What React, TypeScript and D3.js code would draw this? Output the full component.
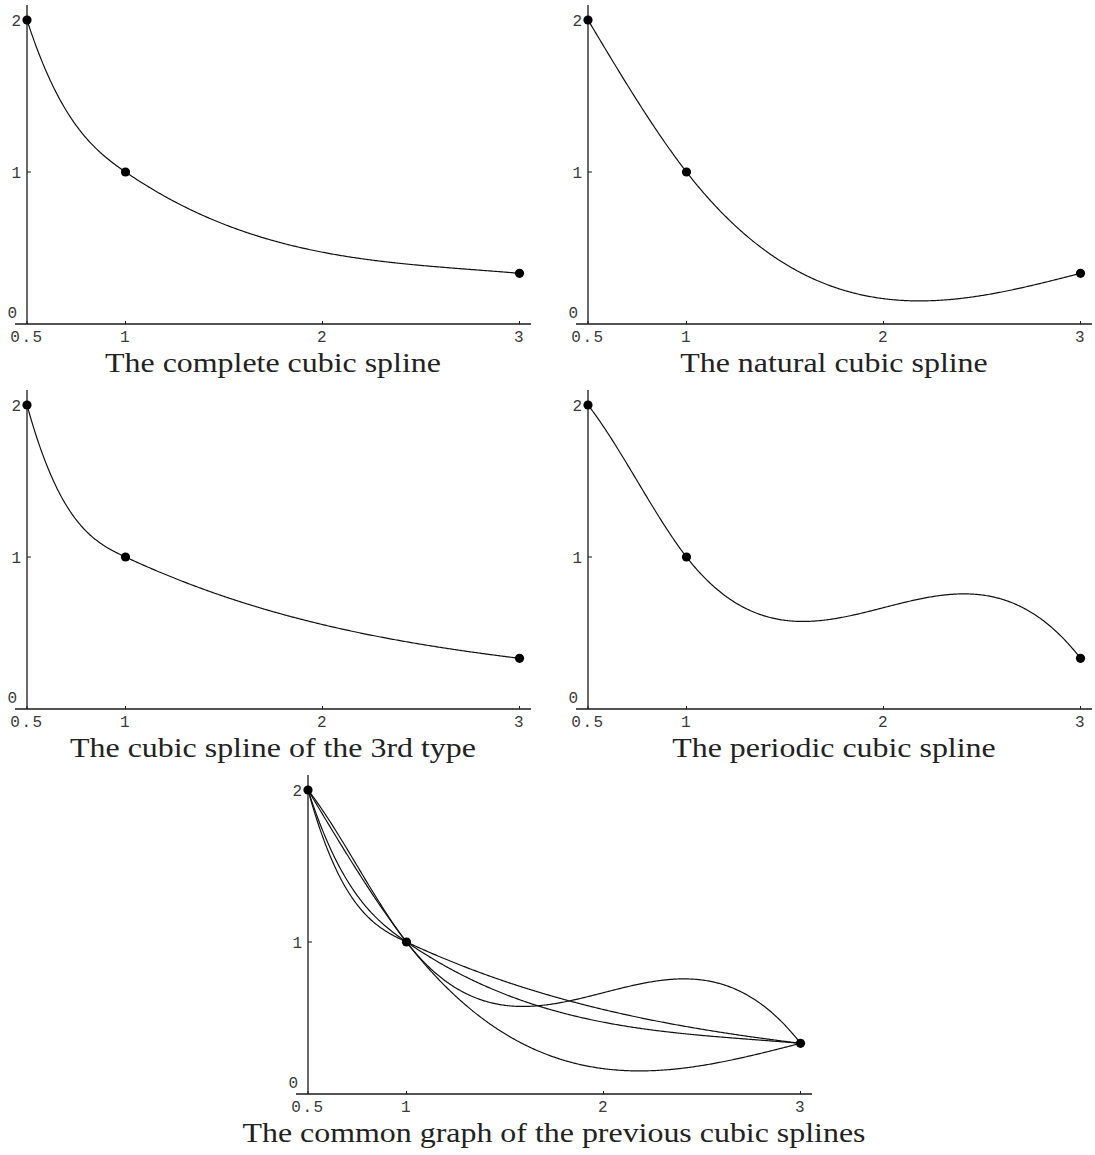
import React from "react";
import * as d3 from "d3";

// Interpolation knots (samples of f(x) = 1/x)
const knotX = [0.5, 1, 3];
const knotY = [2, 1, 1 / 3];

// Boundary data for the spline variants
const completeEndSlopes = [-4, -1 / 9]; // s'(a), s'(b)
const thirdTypeEndCurvatures = [16, 2 / 27]; // s''(a), s''(b)

const xTickValues = [0.5, 1, 2, 3];
const xTickLabels = ["0.5", "1", "2", "3"];
const yTickValues = [0, 1, 2];
const yTickLabels = ["0", "1", "2"];

type Kind = "complete" | "natural" | "third" | "periodic";

const panelKinds: Kind[] = ["complete", "natural", "third", "periodic"];
const panelTitles = [
  "The complete cubic spline",
  "The natural cubic spline",
  "The cubic spline of the 3rd type",
  "The periodic cubic spline",
  "The common graph of the previous cubic splines",
];

// Solve for the knot second derivatives (moments) of the cubic spline
function splineMoments(xs: number[], ys: number[], kind: Kind): number[] {
  const n = xs.length - 1;
  const h: number[] = [];
  const d: number[] = [];
  for (let i = 0; i < n; i++) {
    h[i] = xs[i + 1] - xs[i];
    d[i] = (ys[i + 1] - ys[i]) / h[i];
  }
  const A: number[][] = d3.range(n + 1).map(() => d3.range(n + 1).map(() => 0));
  const b: number[] = d3.range(n + 1).map(() => 0);
  for (let i = 1; i < n; i++) {
    A[i][i - 1] += h[i - 1] / 6;
    A[i][i] += (h[i - 1] + h[i]) / 3;
    A[i][i + 1] += h[i] / 6;
    b[i] = d[i] - d[i - 1];
  }
  if (kind === "complete") {
    A[0][0] += h[0] / 3;
    A[0][1] += h[0] / 6;
    b[0] = d[0] - completeEndSlopes[0];
    A[n][n - 1] += h[n - 1] / 6;
    A[n][n] += h[n - 1] / 3;
    b[n] = completeEndSlopes[1] - d[n - 1];
  } else if (kind === "natural") {
    A[0][0] = 1;
    A[n][n] = 1;
  } else if (kind === "third") {
    A[0][0] = 1;
    b[0] = thirdTypeEndCurvatures[0];
    A[n][n] = 1;
    b[n] = thirdTypeEndCurvatures[1];
  } else {
    // periodic: equal second and first derivatives at both ends
    A[0][0] += 1;
    A[0][n] -= 1;
    A[n][0] += h[0] / 3;
    A[n][1] += h[0] / 6;
    A[n][n - 1] += h[n - 1] / 6;
    A[n][n] += h[n - 1] / 3;
    b[n] = d[0] - d[n - 1];
  }
  // Gaussian elimination with partial pivoting
  const m = n + 1;
  for (let c = 0; c < m; c++) {
    let p = c;
    for (let r = c + 1; r < m; r++) if (Math.abs(A[r][c]) > Math.abs(A[p][c])) p = r;
    [A[c], A[p]] = [A[p], A[c]];
    [b[c], b[p]] = [b[p], b[c]];
    for (let r = c + 1; r < m; r++) {
      const f = A[r][c] / A[c][c];
      for (let k = c; k < m; k++) A[r][k] -= f * A[c][k];
      b[r] -= f * b[c];
    }
  }
  const M: number[] = new Array(m).fill(0);
  for (let r = m - 1; r >= 0; r--) {
    let s = b[r];
    for (let k = r + 1; k < m; k++) s -= A[r][k] * M[k];
    M[r] = s / A[r][r];
  }
  return M;
}

function splineEval(xs: number[], ys: number[], M: number[], x: number): number {
  const n = xs.length - 1;
  let i = 0;
  while (i < n - 1 && x > xs[i + 1]) i++;
  const h = xs[i + 1] - xs[i];
  const a = xs[i + 1] - x;
  const c = x - xs[i];
  return (
    (M[i] * a * a * a) / (6 * h) +
    (M[i + 1] * c * c * c) / (6 * h) +
    ((ys[i] - (M[i] * h * h) / 6) * a) / h +
    ((ys[i + 1] - (M[i + 1] * h * h) / 6) * c) / h
  );
}

const xScale = d3.scaleLinear().domain([0.5, 3]).range([27, 519.5]);
const yScale = d3.scaleLinear().domain([0, 2]).range([324, 20]);

const sampleXs = d3.range(0, 401).map((i) => knotX[0] + ((knotX[knotX.length - 1] - knotX[0]) * i) / 400);

function curvePath(kind: Kind): string {
  const M = splineMoments(knotX, knotY, kind);
  const line = d3
    .line<number>()
    .x((x) => xScale(x))
    .y((x) => yScale(splineEval(knotX, knotY, M, x)));
  return line(sampleXs) || "";
}

const monoFont = "'Liberation Mono', 'DejaVu Sans Mono', monospace";
const serifFont = "'Liberation Serif', 'DejaVu Serif', serif";

function Panel({ kinds, title, dx, dy }: { kinds: Kind[]; title: string; dx: number; dy: number }) {
  const axisColor = "#1a1a1a";
  const labelColor = "#3a3a3a";
  return (
    <g transform={`translate(${dx},${dy})`}>
      {/* axes */}
      <line x1={15} x2={531} y1={yScale(0)} y2={yScale(0)} stroke={axisColor} strokeWidth={1.3} />
      <line x1={xScale(0.5)} x2={xScale(0.5)} y1={yScale(0)} y2={5} stroke={axisColor} strokeWidth={1.3} />
      {xTickValues.map((v, i) => (
        <g key={`xt${i}`}>
          <line x1={xScale(v)} x2={xScale(v)} y1={yScale(0)} y2={yScale(0) - 3} stroke={axisColor} strokeWidth={1} />
          <text
            x={xScale(v)}
            y={342}
            textAnchor="middle"
            fontFamily={monoFont}
            fontSize={16}
            letterSpacing={1.5}
            fill={labelColor}
          >
            {xTickLabels[i]}
          </text>
        </g>
      ))}
      {yTickValues.map((v, i) => (
        <g key={`yt${i}`}>
          {v > 0 && (
            <line x1={xScale(0.5)} x2={xScale(0.5) + 4} y1={yScale(v)} y2={yScale(v)} stroke={axisColor} strokeWidth={1} />
          )}
          <text
            x={v === 0 ? 17 : 21}
            y={v === 0 ? yScale(v) - 12 : yScale(v)}
            dy="0.36em"
            textAnchor="end"
            fontFamily={monoFont}
            fontSize={16}
            fill={labelColor}
          >
            {yTickLabels[i]}
          </text>
        </g>
      ))}
      {/* spline curves */}
      {kinds.map((k) => (
        <path key={k} d={curvePath(k)} fill="none" stroke="#111" strokeWidth={1.2} />
      ))}
      {/* knots */}
      {knotX.map((x, i) => (
        <circle key={`p${i}`} cx={xScale(x)} cy={yScale(knotY[i])} r={4.6} fill="#000" />
      ))}
      {/* caption, widened to the proportions of a Roman book face */}
      <g transform="translate(273,372) scale(1.14,1)">
        <text x={0} y={0} textAnchor="middle" fontFamily={serifFont} fontSize={28} fill="#222">
          {title}
        </text>
      </g>
    </g>
  );
}

export default function App() {
  const offsets = [
    [0, 0],
    [561, 0],
    [0, 385],
    [561, 385],
  ];
  return (
    <svg
      width={1095}
      height={1155}
      style={{ position: "absolute", left: 0, top: 0, background: "#fff" }}
    >
      {panelKinds.map((k, i) => (
        <Panel key={k} kinds={[k]} title={panelTitles[i]} dx={offsets[i][0]} dy={offsets[i][1]} />
      ))}
      <Panel kinds={panelKinds} title={panelTitles[4]} dx={281} dy={770} />
    </svg>
  );
}
